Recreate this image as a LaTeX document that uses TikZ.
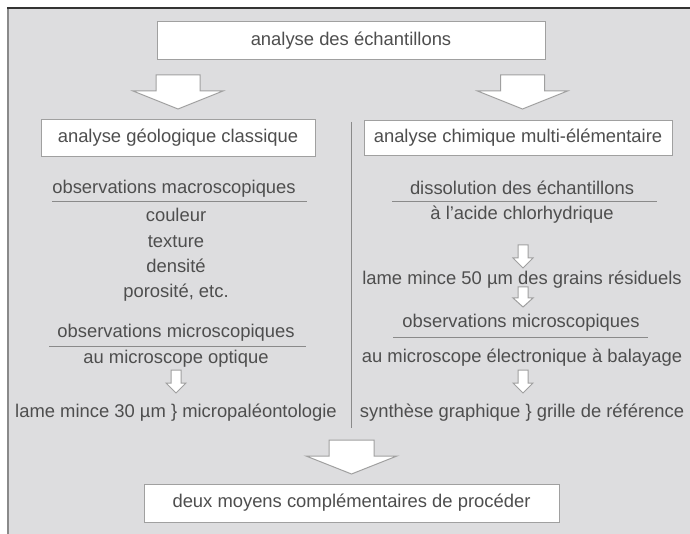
\documentclass[tikz,border=0pt]{standalone}
\usepackage{fontspec}
\setmainfont{Liberation Sans}
\definecolor{panel}{HTML}{DDDDDF}
\definecolor{txtc}{HTML}{4E4E4E}
\definecolor{boxc}{HTML}{A0A0A0}
\definecolor{linec}{HTML}{8A8A8A}
\newcommand\blockarrow[6]{% xcenter, stem top, head base, tip, stem half, head half
  \draw[barrow] ({#1-#5},#2) -- ({#1+#5},#2) -- ({#1+#5},#3) -- ({#1+#6},#3) -- (#1,#4) -- ({#1-#6},#3) -- ({#1-#5},#3) -- cycle;}
\begin{document}
\begin{tikzpicture}[x=1pt,y=-1pt,
  txt/.style={text=txtc,font=\fontsize{18.4}{20}\selectfont,inner sep=0pt,text height=13pt,text depth=4pt,anchor=center},
  boxn/.style={txt,draw=boxc,fill=white,line width=1pt},
  barrow/.style={draw=boxc,fill=white,line width=1pt,line join=miter},
  uline/.style={draw=linec,line width=1pt},
  divider/.style={draw=linec,line width=1pt}]
\useasboundingbox (0,0) rectangle (690,534);
\fill[white] (0,0) rectangle (690,534);
\fill[panel] (8,8) rectangle (690,534);
\draw[linec,line width=2pt] (8,8) -- (8,534);
\draw[black!80,line width=2pt] (7,8) -- (690,8);
% boxes
\node[boxn,minimum width=388pt,minimum height=38pt] (top) at (351,41) {analyse des échantillons};
\node[boxn,minimum width=274pt,minimum height=37pt] (geo) at (178,138.5) {analyse géologique classique};
\node[boxn,minimum width=308pt,minimum height=35pt] (chim) at (518,138.5) {analyse chimique multi-élémentaire};
\node[boxn,minimum width=415pt,minimum height=38pt] (bot) at (351.5,503) {deux moyens complémentaires de procéder};
% big arrows
\blockarrow{178}{75}{91}{109}{22}{45}
\blockarrow{522.5}{75}{91}{109}{22}{45}
\blockarrow{351.5}{440}{456}{474}{22.5}{45.5}
% divider
\coordinate (dtop) at (351,122);
\coordinate (dbot) at (351,428);
\draw[divider] (dtop) -- (dbot);
% left column
\node[txt] (omac) at (174,189) {observations macroscopiques};
\coordinate (u1a) at (52,202); \coordinate (u1b) at (307,202);
\draw[uline] (u1a) -- (u1b);
\node[txt] (coul) at (176,217) {couleur};
\node[txt] (text) at (176,243) {texture};
\node[txt] (dens) at (176,268) {densité};
\node[txt] (poro) at (176,293) {porosité, etc.};
\node[txt] (omic) at (176,333) {observations microscopiques};
\coordinate (u2a) at (49,346.5); \coordinate (u2b) at (306,346.5);
\draw[uline] (u2a) -- (u2b);
\node[txt] (opt) at (176,359) {au microscope optique};
\blockarrow{176}{370}{383}{393}{5}{10}
\node[txt] (lame30) at (176,413) {lame mince 30 µm \} micropaléontologie};
% right column
\node[txt] (diss) at (522,190) {dissolution des échantillons};
\coordinate (u3a) at (392,202); \coordinate (u3b) at (657,202);
\draw[uline] (u3a) -- (u3b);
\node[txt] (acide) at (522,215) {à l'acide chlorhydrique};
\blockarrow{523}{245}{258}{268}{5}{10}
\node[txt] (lame50) at (522,280) {lame mince 50 µm des grains résiduels};
\blockarrow{523}{287}{298}{307}{5}{10}
\node[txt] (omic2) at (521,323) {observations microscopiques};
\coordinate (u4a) at (393,337); \coordinate (u4b) at (648,337);
\draw[uline] (u4a) -- (u4b);
\node[txt] (meb) at (522,358) {au microscope électronique à balayage};
\blockarrow{523}{370}{383}{393}{5}{10}
\node[txt] (synth) at (522,413) {synthèse graphique \} grille de référence};
\end{tikzpicture}
\end{document}
